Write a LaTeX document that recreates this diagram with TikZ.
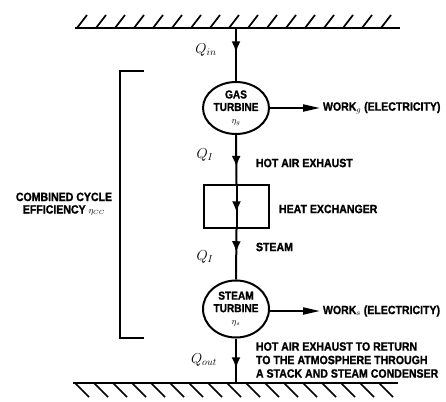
\documentclass[tikz,border=0pt]{standalone}
\usepackage{fontspec}
\setsansfont{Liberation Sans}[FakeStretch=0.88, BoldFeatures={FakeBold=1.2}]
\usetikzlibrary{shapes.geometric,arrows.meta,decorations.markings}

\begin{document}
\begin{tikzpicture}[x=1pt, y=-1pt, line width=2pt,
    unit/.style={ellipse, draw, minimum width=66pt, minimum height=52pt, inner sep=-1pt,
                 align=center, font=\sffamily\bfseries\fontsize{11.5}{12.5}\selectfont},
    box/.style={draw, minimum width=65pt, minimum height=43pt},
    caption/.style={anchor=west, align=left, inner sep=2pt,
                    font=\sffamily\bfseries\fontsize{12}{13.5}\selectfont},
    heat/.style={font=\Large},
    output/.style={-{Triangle[length=17pt,width=7pt]}},
    flowat/.style={postaction={decorate}, decoration={markings,
        mark=at position #1 with {\arrow{Latex[length=11pt,width=9pt]}}}},
]
\useasboundingbox (0,0) rectangle (446,401);

% === Walls ===
\draw (75,28) -- (400,28);
\foreach \x in {77,96,...,381} \draw[line width=1.7pt] (\x,28) -- (\x+10,15);
\draw (73,383) -- (398,383);
\foreach \x in {75,94,...,379} \draw[line width=1.7pt] (\x,383) -- (\x+14,397);
\coordinate (topw) at (236,28);
\coordinate (botw) at (236,383);

% === Units ===
\node[unit] (gt) at (236,108) {GAS\\TURBINE\\{\small$\eta_g$}};
\node[box]  (hx) at (236.5,206.5) {};
\node[unit, minimum height=57pt] (st) at (236,309) {STEAM\\TURBINE\\{\small$\eta_s$}};

% === Flow ===
\draw[flowat=0.46] (topw) -- (gt.north);
\draw[flowat=0.65] (gt.south) -- (hx.north);
\draw[flowat=0.63] (hx.north) -- (hx.south);
\draw[flowat=0.46] (hx.south) -- (st.north);
\draw[flowat=0.67] (st.south) -- (botw);

\node[heat] (qin)  at (206,50)  {$Q_{in}$};
\node[heat] (q1)   at (205,155) {$Q_I$};
\node[heat] (q2)   at (205,257) {$Q_I$};
\node[heat] (qout) at (204,360) {$Q_{out}$};

\node[caption] (hot) at (253,163) {HOT AIR EXHAUST};
\node[caption] (hxl) at (276,209) {HEAT EXCHANGER};
\node[caption] (stm) at (253,247) {STEAM};
\node[caption] (ex)  at (253,360) {HOT AIR EXHAUST TO RETURN\\TO THE ATMOSPHERE THROUGH\\A STACK AND STEAM CONDENSER};

% === Work ===
\node[caption] (wg) at (320,108) {WORK$_g$ (ELECTRICITY)};
\node[caption] (ws) at (320,311) {WORK$_s$ (ELECTRICITY)};
\draw[output] (gt.east) -- (wg.west);
\draw[output] (st.east |- ws.west) -- (ws.west);

% === Efficiency bracket ===
\draw (144,71) -- (120,71) -- (120,338) -- (144,338);
\node[caption, anchor=center, align=center, font=\sffamily\bfseries\fontsize{12}{12.5}\selectfont]
  (eff) at (64,204) {COMBINED CYCLE\\EFFICIENCY {\small$\eta_{CC}$}};
\end{tikzpicture}
\end{document}
